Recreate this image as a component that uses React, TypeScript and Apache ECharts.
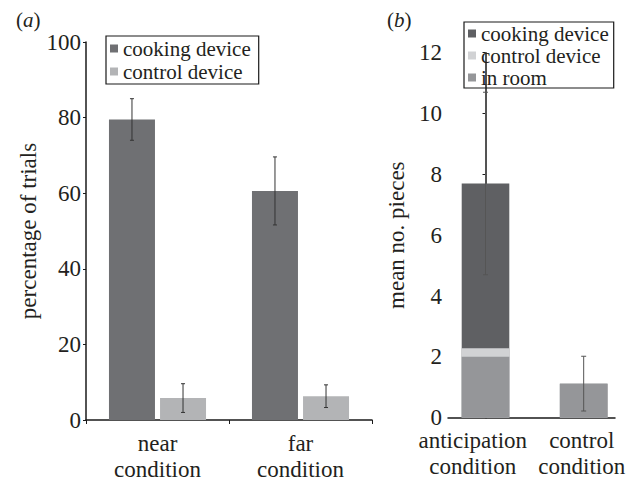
import React, { useEffect, useRef } from "react";
import * as echarts from "echarts";

// ---- Panel (a) data ----
const categoriesA = ["near\ncondition", "far\ncondition"];
const cookingA = [79.5, 60.6];
const cookingErrA = [5.5, 9.0];
const controlA = [5.8, 6.3];
const controlErrA = [3.8, 3.0];
const yMaxA = 100;
const yIntervalA = 20;

// ---- Panel (b) data ----
const categoriesB = ["anticipation\ncondition", "control\ncondition"];
const barPosB = [0, 1];
const inRoomB = [2.0, 1.12];
const controlDevB = [0.28, 0];
const cookingB = [5.42, 0];
const totalErrB = [3.0, 0.9];
const yMaxB = 12;
const yIntervalB = 2;

const FONT = "Liberation Serif";
const TXT = "#231f20";

const colA = { cooking: "#6f7073", control: "#b3b4b6" };
const colB = { cooking: "#5f6063", control: "#d1d2d4", room: "#959699" };

const barWidthA = 46;
const barGapPctA = 11;
const barWidthB = 47.6;
const labelPosB = [-0.13, 0.98];

export default function App() {
  const ref = useRef<HTMLDivElement>(null);
  useEffect(() => {
    if (!ref.current) return;
    const chart = echarts.init(ref.current, null, { renderer: "svg" });
    const gapPx = (barWidthA * barGapPctA) / 100;
    const offA = (barWidthA + gapPx) / 2;

    const errRender = (offset: number, capHalf: number, stroke: string) =>
      (params: any, api: any) => {
        const x0 = api.value(0);
        const m = api.value(1);
        const e = api.value(2);
        const t = api.coord([x0, m + e]);
        const b = api.coord([x0, m - e]);
        const x = t[0] + offset;
        const st = { stroke, lineWidth: 1 };
        return {
          type: "group",
          children: [
            { type: "line", shape: { x1: x, y1: t[1], x2: x, y2: b[1] }, style: st },
            { type: "line", shape: { x1: x - capHalf, y1: t[1], x2: x + capHalf, y2: t[1] }, style: st },
            { type: "line", shape: { x1: x - capHalf, y1: b[1], x2: x + capHalf, y2: b[1] }, style: st },
          ],
        };
      };

    const roomTopB = inRoomB.slice();
    const controlTopB = inRoomB.map((v, i) => v + controlDevB[i]);
    const totalB = controlTopB.map((v, i) => v + cookingB[i]);

    const axisLineStyle = { color: "#1a1a1a", width: 1.5 };
    const mkLabel = (extra: any) => ({
      fontFamily: FONT,
      fontSize: 23,
      color: TXT,
      ...extra,
    });

    chart.setOption({
      animation: false,
      grid: [
        { left: 86, top: 42, width: 286, height: 378 },
        { left: 448, top: 52.7, width: 167, height: 365 },
      ],
      xAxis: [
        {
          type: "category",
          gridIndex: 0,
          data: categoriesA,
          axisLine: { lineStyle: axisLineStyle },
          axisTick: { show: true, length: 4, lineStyle: { color: "#1a1a1a" } },
          axisLabel: mkLabel({ interval: 0, margin: 10, lineHeight: 26 }),
        },
        {
          type: "value",
          gridIndex: 1,
          min: -0.382,
          max: 1.319,
          splitLine: { show: false },
          axisTick: { show: false },
          axisLine: { lineStyle: axisLineStyle },
          axisLabel: mkLabel({
            margin: 10,
            lineHeight: 26,
            customValues: labelPosB,
            formatter: (v: number) => {
              const idx = labelPosB.reduce(
                (best, p, i) => (Math.abs(p - v) < Math.abs(labelPosB[best] - v) ? i : best),
                0
              );
              return categoriesB[idx];
            },
          }),
        },
      ],
      yAxis: [
        {
          type: "value",
          gridIndex: 0,
          min: 0,
          max: yMaxA,
          interval: yIntervalA,
          name: "percentage of trials",
          nameLocation: "middle",
          nameGap: 46,
          nameTextStyle: { fontFamily: FONT, fontSize: 23, color: TXT },
          splitLine: { show: false },
          axisLine: { show: true, lineStyle: axisLineStyle },
          axisTick: { show: true, length: 3, lineStyle: { color: "#1a1a1a" } },
          axisLabel: mkLabel({ margin: 5 }),
        },
        {
          type: "value",
          gridIndex: 1,
          min: 0,
          max: yMaxB,
          interval: yIntervalB,
          name: "mean no. pieces",
          nameLocation: "middle",
          nameGap: 40,
          nameTextStyle: { fontFamily: FONT, fontSize: 23, color: TXT },
          splitLine: { show: false },
          axisLine: { show: true, lineStyle: axisLineStyle },
          axisTick: { show: true, length: 3, lineStyle: { color: "#1a1a1a" } },
          axisLabel: mkLabel({ margin: 6 }),
        },
      ],
      legend: [
        {
          orient: "vertical",
          left: 106,
          top: 36,
          padding: [2, 8, 2, 4],
          itemGap: 2,
          itemWidth: 8,
          itemHeight: 8,
          icon: "rect",
          borderColor: "#1a1a1a",
          borderWidth: 1.2,
          borderRadius: 0,
          textStyle: { fontFamily: FONT, fontSize: 21, color: TXT, lineHeight: 21 },
          data: [
            { name: "cooking device", itemStyle: { color: colA.cooking } },
            { name: "control device", itemStyle: { color: colA.control } },
          ],
        },
        {
          orient: "vertical",
          left: 464,
          top: 22,
          padding: [1, 5, 0, 4],
          itemGap: 1,
          itemWidth: 8,
          itemHeight: 8,
          icon: "rect",
          borderColor: "#1a1a1a",
          borderWidth: 1.2,
          borderRadius: 0,
          textStyle: { fontFamily: FONT, fontSize: 21, color: TXT, lineHeight: 20 },
          data: [
            { name: "cooking device", itemStyle: { color: colB.cooking } },
            { name: "control device", itemStyle: { color: colB.control } },
            { name: "in room", itemStyle: { color: colB.room } },
          ],
        },
      ],
      graphic: [
        {
          type: "text",
          left: 16,
          top: 9,
          style: {
            text: "({i|a})",
            fontFamily: FONT,
            fontSize: 21,
            fill: TXT,
            rich: { i: { fontStyle: "italic", fontSize: 21, fontFamily: FONT } },
          },
        },
        {
          type: "text",
          left: 387,
          top: 9,
          style: {
            text: "({i|b})",
            fontFamily: FONT,
            fontSize: 21,
            fill: TXT,
            rich: { i: { fontStyle: "italic", fontSize: 21, fontFamily: FONT } },
          },
        },
      ],
      series: [
        {
          type: "bar",
          name: "cooking device",
          xAxisIndex: 0,
          yAxisIndex: 0,
          data: cookingA,
          barWidth: barWidthA,
          barGap: `${barGapPctA}%`,
          itemStyle: { color: colA.cooking },
        },
        {
          type: "bar",
          name: "control device",
          xAxisIndex: 0,
          yAxisIndex: 0,
          data: controlA,
          barWidth: barWidthA,
          barGap: `${barGapPctA}%`,
          itemStyle: { color: colA.control },
        },
        {
          type: "custom",
          xAxisIndex: 0,
          yAxisIndex: 0,
          z: 10,
          renderItem: errRender(-offA, 2, "#333"),
          encode: { x: 0, y: 1 },
          data: cookingA.map((v, i) => [i, v, cookingErrA[i]]),
        },
        {
          type: "custom",
          xAxisIndex: 0,
          yAxisIndex: 0,
          z: 10,
          renderItem: errRender(offA, 2, "#333"),
          encode: { x: 0, y: 1 },
          data: controlA.map((v, i) => [i, v, controlErrA[i]]),
        },
        {
          type: "bar",
          name: "cooking device",
          xAxisIndex: 1,
          yAxisIndex: 1,
          barWidth: barWidthB,
          barGap: "-100%",
          data: totalB.map((v, i) => [barPosB[i], v]),
          itemStyle: { color: colB.cooking },
        },
        {
          type: "bar",
          name: "control device",
          xAxisIndex: 1,
          yAxisIndex: 1,
          barWidth: barWidthB,
          barGap: "-100%",
          data: controlTopB.map((v, i) => [barPosB[i], v]),
          itemStyle: { color: colB.control },
        },
        {
          type: "bar",
          name: "in room",
          xAxisIndex: 1,
          yAxisIndex: 1,
          barWidth: barWidthB,
          barGap: "-100%",
          data: roomTopB.map((v, i) => [barPosB[i], v]),
          itemStyle: { color: colB.room },
        },
        {
          type: "custom",
          xAxisIndex: 1,
          yAxisIndex: 1,
          z: 10,
          renderItem: errRender(0, 2.5, "#555"),
          encode: { x: 0, y: 1 },
          data: totalB.map((v, i) => [barPosB[i], v, totalErrB[i]]),
        },
      ],
    });
    return () => chart.dispose();
  }, []);
  return (
    <div
      ref={ref}
      style={{ position: "absolute", left: 0, top: 0, width: 638, height: 484 }}
    />
  );
}
